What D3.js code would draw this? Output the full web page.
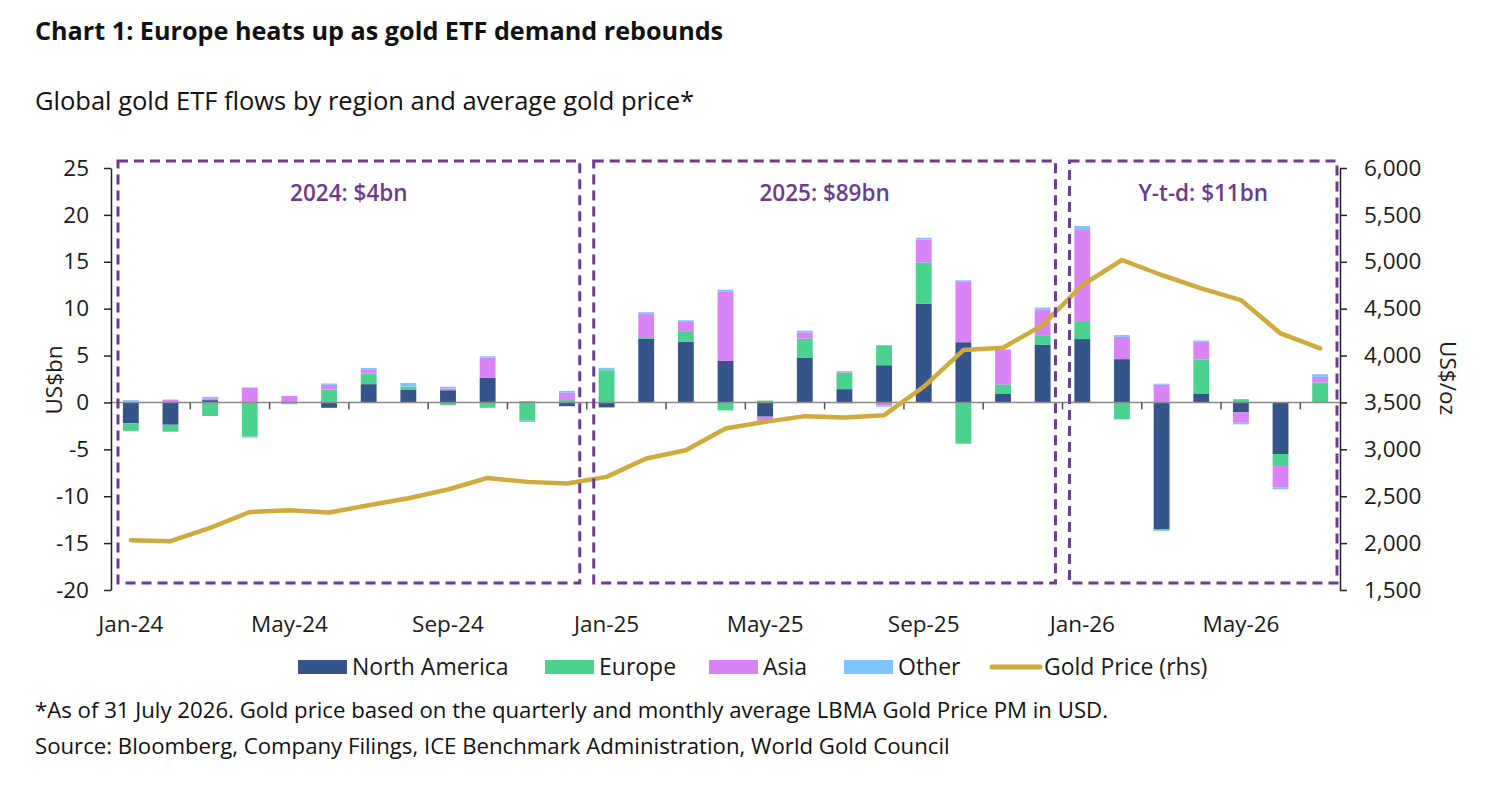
<!DOCTYPE html>
<html>
<head>
<meta charset="utf-8">
<script src="https://cdn.jsdelivr.net/npm/d3@7"></script>
<style>
  html, body { margin: 0; padding: 0; background: #fff; }
  svg { display: block; font-family: "Open Sans", "Noto Sans", sans-serif; }
</style>
</head>
<body>
<svg id="chart" width="1500" height="787"></svg>
<script>
// ---------- DATA ----------
const months = ["Jan-24","Feb-24","Mar-24","Apr-24","May-24","Jun-24","Jul-24","Aug-24","Sep-24","Oct-24","Nov-24","Dec-24",
                "Jan-25","Feb-25","Mar-25","Apr-25","May-25","Jun-25","Jul-25","Aug-25","Sep-25","Oct-25","Nov-25","Dec-25",
                "Jan-26","Feb-26","Mar-26","Apr-26","May-26","Jun-26","Jul-26"];
const tickLabels = ["Jan-24","May-24","Sep-24","Jan-25","May-25","Sep-25","Jan-26","May-26"];

const northAmerica = [-2.23,-2.38,0.25,0,0,-0.57,1.95,1.38,1.3,2.62,0.1,-0.4,
                      -0.53,6.77,6.49,4.43,-1.52,4.79,1.42,3.97,10.53,6.42,0.96,6.17,
                      6.76,4.62,-13.5,0.96,-1.06,-5.5,0];
const europe       = [-0.8,-0.67,-1.45,-3.65,0.15,1.38,1.13,0.3,-0.28,-0.57,-1.95,0.25,
                      3.44,0.1,1.03,-0.85,0.2,2.02,1.77,2.13,4.4,-4.4,0.96,1.0,
                      1.92,-1.8,-0.18,3.62,0.35,-1.17,2.13];
const asia         = [0.1,0.3,0.2,1.6,0.55,0.5,0.46,0,0.2,2.16,0,0.8,
                      0,2.55,1.06,7.38,-0.43,0.67,0.14,-0.35,2.45,6.42,3.72,2.7,
                      9.71,2.38,1.9,1.88,-1.1,-2.38,0.6];
const other        = [0.15,-0.1,0.15,-0.1,-0.2,0.14,0.14,0.4,0.18,0.14,-0.14,0.18,
                      0.25,0.2,0.18,0.21,-0.1,0.18,-0.1,-0.1,0.18,0.18,0,0.25,
                      0.43,0.18,0.1,0.14,-0.18,-0.21,0.28];
const goldPrice    = [2030,2020,2162,2332,2351,2326,2404,2479,2572,2695,2653,2636,
                      2706,2902,2991,3222,3293,3354,3340,3364,3667,4058,4083,4325,
                      4752,5019,4859,4717,4592,4236,4076];

const seriesNames = ["North America","Europe","Asia","Other"];
const seriesColors = ["#35548A","#4CD28F","#D884F7","#7FC4FA"];
const goldColor = "#CFAA3C";
const purple = "#6C3B8F";

const periods = [
  {label: "2024: $4bn",   from: "Jan-24", to: "Dec-24"},
  {label: "2025: $89bn",  from: "Jan-25", to: "Dec-25"},
  {label: "Y-t-d: $11bn", from: "Jan-26", to: "Jul-26"}
];

// ---------- BUILD TABLE ----------
const table = months.map((m, i) => ({
  month: m,
  "North America": northAmerica[i],
  "Europe": europe[i],
  "Asia": asia[i],
  "Other": other[i],
  gold: goldPrice[i]
}));

// ---------- LAYOUT ----------
const svg = d3.select("#chart");
const plotLeft = 111, plotRight = 1340, plotTop = 168, plotBottom = 590;
const textColor = "#1a1a1a";

const x = d3.scaleBand().domain(months).range([plotLeft, plotRight]).paddingInner(0.6).paddingOuter(0.3);
const yL = d3.scaleLinear().domain([-20, 25]).range([plotBottom, plotTop]);
const yR = d3.scaleLinear().domain([1500, 6000]).range([plotBottom, plotTop]);
const step = x.step();
const slotStart = m => x(m) - (step - x.bandwidth()) / 2;

// Title & subtitle
svg.append("text").attr("x", 35).attr("y", 40)
  .attr("font-size", 25.2).attr("font-weight", 700).attr("fill", "#111")
  .text("Chart 1: Europe heats up as gold ETF demand rebounds");
svg.append("text").attr("x", 35).attr("y", 110)
  .attr("font-size", 25.5).attr("fill", "#111")
  .text("Global gold ETF flows by region and average gold price*");

// Stacked bars
const stack = d3.stack().keys(seriesNames).offset(d3.stackOffsetDiverging);
const stacked = stack(table);
svg.append("g").selectAll("g").data(stacked).join("g")
  .attr("fill", (d, i) => seriesColors[i])
  .selectAll("rect").data(d => d).join("rect")
  .attr("x", d => x(d.data.month))
  .attr("width", x.bandwidth())
  .attr("y", d => yL(Math.max(d[0], d[1])))
  .attr("height", d => Math.abs(yL(d[0]) - yL(d[1])));

// Zero line + category ticks
svg.append("line").attr("x1", plotLeft).attr("x2", plotRight)
  .attr("y1", yL(0)).attr("y2", yL(0))
  .attr("stroke", "#8a8a8a").attr("stroke-width", 1.5);
svg.append("g").selectAll("line")
  .data(months.filter((m, i) => i > 0 && i % 2 === 0))
  .join("line")
  .attr("x1", d => slotStart(d)).attr("x2", d => slotStart(d))
  .attr("y1", yL(0)).attr("y2", yL(0) + 7)
  .attr("stroke", "#555").attr("stroke-width", 1.5);

// X labels
svg.append("g").selectAll("text").data(tickLabels).join("text")
  .attr("x", d => x(d) + x.bandwidth() / 2)
  .attr("y", 632)
  .attr("text-anchor", "middle")
  .attr("font-size", 22.5).attr("fill", textColor)
  .text(d => d);

// Left axis
const axL = svg.append("g").attr("transform", `translate(${plotLeft},0)`)
  .call(d3.axisLeft(yL).tickValues(d3.range(-20, 26, 5)).tickFormat(d => String(d))
        .tickSize(7).tickSizeOuter(0).tickPadding(15));
// Right axis
const axR = svg.append("g").attr("transform", `translate(${plotRight},0)`)
  .call(d3.axisRight(yR).tickValues(d3.range(1500, 6001, 500)).tickFormat(d3.format(","))
        .tickSize(7).tickSizeOuter(0).tickPadding(17));
[axL, axR].forEach(ax => {
  ax.select(".domain").attr("stroke", "#222").attr("stroke-width", 1.5);
  ax.selectAll(".tick line").attr("stroke", "#222").attr("stroke-width", 1.5);
  ax.selectAll(".tick text").attr("font-size", 22.5).attr("fill", textColor)
    .attr("font-family", "Open Sans, Noto Sans, sans-serif");
});

// Axis titles
svg.append("text").attr("transform", `translate(53,380) rotate(-90)`)
  .attr("text-anchor", "middle").attr("dominant-baseline", "central")
  .attr("font-size", 22.5).attr("fill", textColor).text("US$bn");
svg.append("text").attr("transform", `translate(1448,378) rotate(90)`)
  .attr("text-anchor", "middle").attr("dominant-baseline", "central")
  .attr("font-size", 22.5).attr("fill", textColor).text("US$/oz");

// Gold price line
svg.append("path").datum(table)
  .attr("fill", "none").attr("stroke", goldColor).attr("stroke-width", 4.5)
  .attr("stroke-linejoin", "round").attr("stroke-linecap", "round")
  .attr("d", d3.line().x(d => x(d.month) + x.bandwidth() / 2).y(d => yR(d.gold)));

// Period boxes
const boxTop = yL(25) - 7, boxBottom = yL(-20) - 7;
periods.forEach((p, i) => {
  const x0 = slotStart(p.from) + 7;
  const x1 = i === periods.length - 1 ? plotRight - 3 : slotStart(p.to) + step - 7;
  svg.append("rect").attr("x", x0).attr("y", boxTop)
    .attr("width", x1 - x0).attr("height", boxBottom - boxTop)
    .attr("fill", "none").attr("stroke", purple).attr("stroke-width", 3)
    .attr("stroke-dasharray", "10,6");
  svg.append("text").attr("x", (x0 + x1) / 2).attr("y", 201)
    .attr("text-anchor", "middle").attr("font-size", 22.5).attr("font-weight", 600)
    .attr("fill", purple).text(p.label);
});

// Legend
const legendItems = [
  {name: "North America", color: seriesColors[0], type: "rect", x: 298},
  {name: "Europe", color: seriesColors[1], type: "rect", x: 545},
  {name: "Asia", color: seriesColors[2], type: "rect", x: 709},
  {name: "Other", color: seriesColors[3], type: "rect", x: 844},
  {name: "Gold Price (rhs)", color: goldColor, type: "line", x: 990}
];
const lg = svg.append("g");
legendItems.forEach(it => {
  if (it.type === "rect") {
    lg.append("rect").attr("x", it.x).attr("y", 660).attr("width", 49).attr("height", 14).attr("fill", it.color);
  } else {
    lg.append("line").attr("x1", it.x + 2).attr("x2", it.x + 50).attr("y1", 667).attr("y2", 667)
      .attr("stroke", it.color).attr("stroke-width", 5).attr("stroke-linecap", "round");
  }
  lg.append("text").attr("x", it.x + 54).attr("y", 675)
    .attr("font-size", 23).attr("fill", textColor).text(it.name);
});

// Footnotes
svg.append("text").attr("x", 35).attr("y", 718).attr("font-size", 22.2).attr("fill", "#111")
  .text("*As of 31 July 2026. Gold price based on the quarterly and monthly average LBMA Gold Price PM in USD.");
svg.append("text").attr("x", 35).attr("y", 754).attr("font-size", 22.2).attr("fill", "#111")
  .text("Source: Bloomberg, Company Filings, ICE Benchmark Administration, World Gold Council");
</script>
</body>
</html>
